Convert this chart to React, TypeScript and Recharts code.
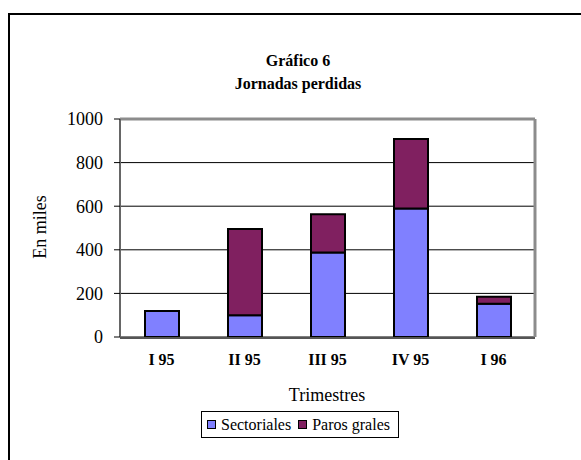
import React from "react";
import { Bar, BarChart, CartesianGrid, Legend, ReferenceLine, XAxis, YAxis } from "recharts";

const quarters = ["I 95", "II 95", "III 95", "IV 95", "I 96"];
const sectoriales = [119, 100, 388, 590, 152];
const parosGrales = [0, 395, 175, 318, 33];
const seriesNames = ["Sectoriales", "Paros grales"];
const yTicks = [0, 200, 400, 600, 800, 1000];
const edgeTicks = [0, 1, 2, 3, 4, 5];

const data = quarters.map((q, i) => ({
  label: q,
  sectoriales: sectoriales[i],
  paros: parosGrales[i]
}));

const serif = "'Times New Roman', 'Liberation Serif', serif";

function LegendBox(props: any) {
  const items = [...(props.payload || [])].sort(
    (a: any, b: any) => seriesNames.indexOf(a.value) - seriesNames.indexOf(b.value)
  );
  return (
    <div
      style={{
        boxSizing: "border-box",
        width: 198,
        height: 27,
        border: "1px solid #000",
        display: "flex",
        alignItems: "center",
        paddingLeft: 5,
        fontFamily: serif,
        fontSize: 16,
        color: "#000"
      }}
    >
      {items.map((it: any) => (
        <span key={it.value} style={{ display: "flex", alignItems: "center", marginRight: 7 }}>
          <span
            style={{
              display: "inline-block",
              boxSizing: "border-box",
              width: 9,
              height: 9,
              background: it.color,
              border: "1.5px solid #000",
              marginRight: 5
            }}
          />
          {it.value}
        </span>
      ))}
    </div>
  );
}

export default function App() {
  return (
    <div
      style={{
        position: "absolute",
        left: 0,
        top: 0,
        width: 581,
        height: 460,
        overflow: "hidden",
        background: "#fff",
        fontFamily: serif
      }}
    >
      <div
        style={{
          position: "absolute",
          left: 8,
          top: 13,
          width: 620,
          height: 520,
          border: "2px solid #000"
        }}
      />
      <div
        style={{
          position: "absolute",
          left: 198,
          top: 49,
          width: 200,
          textAlign: "center",
          fontWeight: "bold",
          fontSize: 16,
          lineHeight: "23px",
          fontFamily: serif
        }}
      >
        <div>Gráfico 6</div>
        <div>Jornadas perdidas</div>
      </div>
      <div
        style={{
          position: "absolute",
          left: -10,
          top: 218,
          width: 100,
          textAlign: "center",
          fontSize: 18,
          lineHeight: "18px",
          transform: "rotate(-90deg)"
        }}
      >
        En miles
      </div>
      <div
        style={{
          position: "absolute",
          left: 227,
          top: 386,
          width: 200,
          textAlign: "center",
          fontSize: 18,
          lineHeight: "18px"
        }}
      >
        Trimestres
      </div>
      <div style={{ position: "absolute", left: 0, top: 0 }}>
        <BarChart
          width={581}
          height={460}
          data={data}
          barSize={34}
          margin={{ top: 119, right: 45, bottom: 121, left: 0 }}
        >
          <CartesianGrid vertical={false} stroke="#000" strokeWidth={1} />
          <XAxis
            xAxisId="edges"
            type="number"
            domain={[0, 5]}
            ticks={edgeTicks}
            height={1}
            tick={false}
            tickSize={6}
            tickLine={{ stroke: "#000", strokeWidth: 1 }}
            axisLine={{ stroke: "#555", strokeWidth: 2 }}
          />
          <XAxis
            dataKey="label"
            height={1}
            axisLine={false}
            tickLine={false}
            tickSize={6}
            tickMargin={11}
            interval={0}
            tick={{ fill: "#000", fontSize: 16, fontWeight: "bold", fontFamily: serif }}
          />
          <YAxis
            width={120}
            domain={[0, 1000]}
            ticks={yTicks}
            interval={0}
            tickSize={6}
            tickMargin={11}
            axisLine={{ stroke: "#666", strokeWidth: 2 }}
            tickLine={{ stroke: "#000", strokeWidth: 1 }}
            tick={{ fill: "#000", fontSize: 18, fontFamily: serif }}
          />
          <YAxis
            yAxisId="right"
            orientation="right"
            width={1}
            domain={[0, 1000]}
            tick={false}
            tickLine={false}
            axisLine={{ stroke: "#8c8c8c", strokeWidth: 3 }}
          />
          <ReferenceLine y={1000} stroke="#8c8c8c" strokeWidth={3} />
          <Legend
            verticalAlign="middle"
            layout="horizontal"
            content={<LegendBox />}
            wrapperStyle={{ left: 201, top: 411, width: 198, height: 27 }}
          />
          <Bar
            dataKey="sectoriales"
            name="Sectoriales"
            stackId="a"
            fill="#8080ff"
            stroke="#000"
            strokeWidth={2}
            isAnimationActive={false}
          />
          <Bar
            dataKey="paros"
            name="Paros grales"
            stackId="a"
            fill="#802060"
            stroke="#000"
            strokeWidth={2}
            isAnimationActive={false}
          />
        </BarChart>
      </div>
    </div>
  );
}
